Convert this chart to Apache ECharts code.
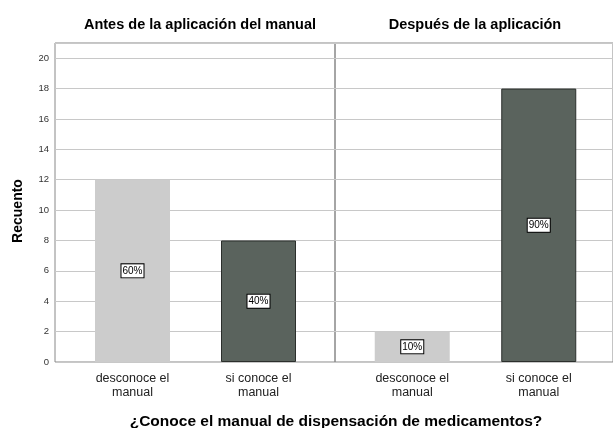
<!DOCTYPE html>
<html><head><meta charset="utf-8">
<script src="https://cdn.jsdelivr.net/npm/echarts@6/dist/echarts.min.js"></script>
<style>html,body{margin:0;padding:0;background:#fff}#c{width:613px;height:428px}</style>
</head><body><div id="c"></div>
<script>
const categories = ['desconoce el\nmanual', 'si conoce el\nmanual'];
const panelTitles = ['Antes de la aplicación del manual', 'Después de la aplicación'];
const antesValues = [12, 8];
const despuesValues = [2, 18];
const antesPct = ['60%', '40%'];
const despuesPct = ['10%', '90%'];
const barColors = ['#cccccc', '#5a635d'];
const yMax = 21, yInterval = 2;

const FONT = 'Liberation Sans, Arial, sans-serif';
const chart = echarts.init(document.getElementById('c'), null, {renderer: 'canvas'});
const TOP = 43, H = 319;

function barData(vals, pcts) {
  return vals.map((v, i) => ({
    value: v,
    itemStyle: {
      color: barColors[i],
      borderColor: i === 1 ? '#2b2f2c' : barColors[i],
      borderWidth: i === 1 ? 1 : 0
    },
    label: {formatter: pcts[i]}
  }));
}
const labelStyle = {
  show: true, position: 'inside', color: '#000', fontFamily: FONT, fontSize: 10,
  backgroundColor: '#fff', borderColor: '#000', borderWidth: 1, padding: [2, 1, 1, 1]
};
const yBg = (gi, showLabels) => ({
  gridIndex: gi, type: 'value', min: 0, max: yMax, interval: yInterval,
  axisLine: {show: false}, axisTick: {show: false},
  axisLabel: {show: showLabels, showMaxLabel: false, fontSize: 9.5, color: '#333', fontFamily: FONT, margin: 6},
  splitLine: {show: true, lineStyle: {color: '#c8c8c8', width: 1}}
});
const yHidden = gi => ({gridIndex: gi, type: 'value', min: 0, max: yMax, show: false, splitLine: {show: false}});
const xCat = gi => ({
  gridIndex: gi, type: 'category', data: categories,
  axisLine: {show: false}, axisTick: {show: false},
  axisLabel: {fontSize: 12.5, color: '#222', fontFamily: FONT, lineHeight: 14, margin: 10, interval: 0}
});

chart.setOption({
  animation: false,
  backgroundColor: '#fff',
  title: [
    {text: panelTitles[0], left: 195, top: 12, textAlign: 'center',
     textStyle: {fontSize: 14.5, fontWeight: 'bold', color: '#000', fontFamily: FONT}},
    {text: panelTitles[1], left: 470, top: 12, textAlign: 'center',
     textStyle: {fontSize: 14.5, fontWeight: 'bold', color: '#000', fontFamily: FONT}},
    {text: '¿Conoce el manual de dispensación de medicamentos?', left: 331, top: 409, textAlign: 'center',
     textStyle: {fontSize: 15.5, fontWeight: 'bold', color: '#000', fontFamily: FONT}}
  ],
  graphic: [{
    type: 'text', rotation: Math.PI / 2, x: 18, y: 211,
    style: {text: 'Recuento', font: 'bold 14px ' + FONT, fill: '#000',
            align: 'center', verticalAlign: 'middle'}
  }],
  grid: [
    {left: 55, top: TOP, width: 280, height: H, show: true, borderColor: '#888', borderWidth: 1, backgroundColor: '#fff'},
    {left: 335, top: TOP, width: 280, height: H, show: true, borderColor: '#888', borderWidth: 1, backgroundColor: 'transparent'},
    {left: 69.5, top: TOP, width: 252, height: H},
    {left: 349, top: TOP, width: 253, height: H}
  ],
  xAxis: [
    {gridIndex: 0, type: 'value', show: false},
    {gridIndex: 1, type: 'value', show: false},
    xCat(2), xCat(3)
  ],
  yAxis: [yBg(0, true), yBg(1, false), yHidden(2), yHidden(3)],
  series: [
    {type: 'bar', xAxisIndex: 2, yAxisIndex: 2, barWidth: 75, data: barData(antesValues, antesPct), label: labelStyle, z: 3},
    {type: 'bar', xAxisIndex: 3, yAxisIndex: 3, barWidth: 75, data: barData(despuesValues, despuesPct), label: labelStyle, z: 3}
  ]
});
</script></body></html>
